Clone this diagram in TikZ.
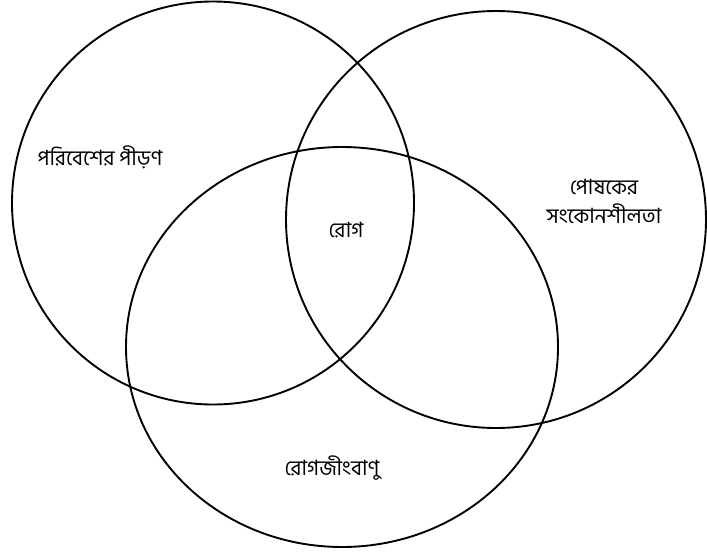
\documentclass[tikz,border=0pt]{standalone}
\usepackage{fontspec}
\newfontfamily\bnfont[Script=Bengali]{Hind Siliguri}
\usetikzlibrary{shapes.geometric}
\begin{document}
\begin{tikzpicture}[x=1pt,y=-1pt,
  venn/.style={draw=black,line width=1.9pt,ellipse,inner sep=0pt},
  lbl/.style={font=\bnfont\fontsize{21}{29}\selectfont,align=center,inner sep=0pt}]
\useasboundingbox (0,0) rectangle (707,552);
\node[venn,minimum width=402pt,minimum height=403pt] (env) at (213,203) {};
\node[venn,minimum width=420pt,minimum height=417pt] (host) at (496,219.5) {};
\node[venn,minimum width=432pt,minimum height=400pt] (path) at (342,347) {};
\node[lbl] (tenv) at (100,157) {পরিবেশের পীড়ণ};
\node[lbl] (tdis) at (346,230) {রোগ};
\node[lbl] (thost) at (604,201) {পোষকের\\সংকোনশীলতা};
\node[lbl] (tpath) at (332,468) {রোগজীংবাণু};
\end{tikzpicture}
\end{document}
